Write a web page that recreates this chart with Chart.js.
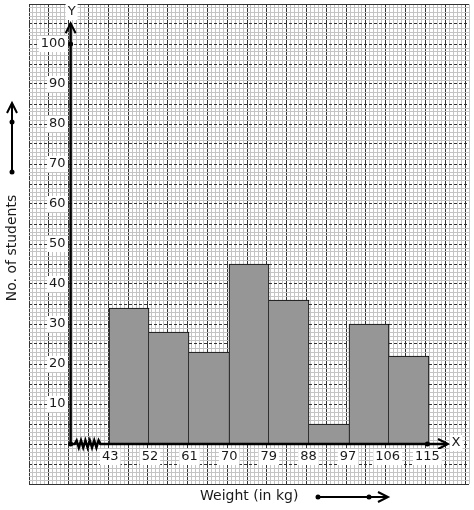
<!DOCTYPE html>
<html>
<head>
<meta charset="utf-8">
<script src="https://cdn.jsdelivr.net/npm/chart.js@4"></script>
<style>
  body { margin: 0; background: #fff; }
</style>
</head>
<body>
<canvas id="chart" width="474" height="510"></canvas>
<script>
// class intervals (kg), 9 kg wide; the outer ones are empty paper
const classes = ['25-34', '34-43', '43-52', '52-61', '61-70', '70-79',
                 '79-88', '88-97', '97-106', '106-115', '115-124'];
const students = [null, null, 34, 28, 23, 45, 36, 5, 30, 22, null];
const xTicks = [43, 52, 61, 70, 79, 88, 97, 106, 115];
const yTicks = [10, 20, 30, 40, 50, 60, 70, 80, 90, 100];

const FONT = '13px "DejaVu Sans", sans-serif';
const TITLE_FONT = '14px "DejaVu Sans", sans-serif';
const INK = '#1a1a1a';

function neighbour(i) {
    return students[i] == null ? 0 : students[i];
}

// only the taller bar of two neighbours draws the shared edge
function barBorder(ctx) {
    const i = ctx.dataIndex;
    const cur = neighbour(i);
    return {
        top: 1,
        bottom: 0,
        left: neighbour(i - 1) < cur ? 1 : 0,
        right: neighbour(i + 1) <= cur ? 1 : 0
    };
}

function labelBox(c, text, x, y, align) {
    c.font = FONT;
    const w = c.measureText(text).width;
    const left = align === 'right' ? x - w : align === 'center' ? x - w / 2 : x;
    c.fillStyle = '#fff';
    c.fillRect(left - 2, y - 8, w + 4, 16);
    c.fillStyle = INK;
    c.textAlign = align;
    c.textBaseline = 'middle';
    c.fillText(text, x, y);
}

function dot(c, x, y) {
    c.beginPath();
    c.arc(x, y, 2.5, 0, Math.PI * 2);
    c.fill();
}

function openArrow(c, x, y, dx, dy) {
    // tip at x,y pointing along dx,dy
    const px = -dy, py = dx;
    c.beginPath();
    c.moveTo(x - dx * 10 + px * 5, y - dy * 10 + py * 5);
    c.lineTo(x, y);
    c.lineTo(x - dx * 10 - px * 5, y - dy * 10 - py * 5);
    c.stroke();
}

const axesPlugin = {
    id: 'axes',
    afterDatasetsDraw(chart) {
        const c = chart.ctx;
        const xs = chart.scales.xg;
        const ys = chart.scales.y;
        const ox = xs.getPixelForValue(34);
        const oy = ys.getPixelForValue(0);
        c.save();
        c.strokeStyle = '#000';
        c.fillStyle = '#000';
        c.lineWidth = 2.5;

        // y axis
        const yTop = ys.getPixelForValue(105.2);
        c.beginPath();
        c.moveTo(ox, oy);
        c.lineTo(ox, yTop + 1);
        c.stroke();
        c.lineWidth = 2;
        openArrow(c, ox, yTop, 0, -1);

        // x axis with break mark
        c.lineWidth = 2.5;
        const zStart = ox + 4;
        const zEnd = xs.getPixelForValue(40.8);
        c.beginPath();
        c.moveTo(ox, oy);
        c.lineTo(zStart, oy);
        let up = true;
        for (let x = zStart + 2; x < zEnd; x += 2.2) {
            c.lineTo(x, oy + (up ? -3.5 : 3.5));
            up = !up;
        }
        c.lineTo(zEnd, oy);
        c.lineTo(xs.getPixelForValue(124) - 20, oy);
        c.stroke();
        c.lineWidth = 2;
        openArrow(c, xs.getPixelForValue(124) - 19, oy, 1, 0);

        dot(c, ox, oy);
        dot(c, ox, ys.getPixelForValue(100));
        dot(c, xs.getPixelForValue(115), oy);

        yTicks.forEach(v => labelBox(c, String(v), ox - 5, ys.getPixelForValue(v), 'right'));
        xTicks.forEach(v => labelBox(c, String(v), xs.getPixelForValue(v), oy + 13, 'center'));
        labelBox(c, 'Y', ox + 1, ys.getPixelForValue(108), 'center');
        labelBox(c, 'X', xs.getPixelForValue(124) - 11, oy - 1, 'center');
        c.restore();
    },
    afterDraw(chart) {
        const c = chart.ctx;
        c.save();
        c.font = TITLE_FONT;
        c.fillStyle = INK;
        c.strokeStyle = '#000';

        // x title and arrow
        c.textAlign = 'left';
        c.textBaseline = 'middle';
        c.fillText('Weight (in kg)', 200, 496);
        c.lineWidth = 2;
        c.beginPath();
        c.moveTo(318, 497);
        c.lineTo(388, 497);
        c.stroke();
        openArrow(c, 388, 497, 1, 0);
        c.fillStyle = '#000';
        dot(c, 318, 497);
        dot(c, 369, 497);

        // y title and arrow
        c.beginPath();
        c.moveTo(12, 172);
        c.lineTo(12, 103);
        c.stroke();
        openArrow(c, 12, 103, 0, -1);
        dot(c, 12, 172);
        dot(c, 12, 122);
        c.translate(12, 248);
        c.rotate(-Math.PI / 2);
        c.fillStyle = INK;
        c.textAlign = 'center';
        c.fillText('No. of students', 0, 0);
        c.restore();
    }
};

const ctx = document.getElementById('chart').getContext('2d');
const histogram = new Chart(ctx, {
    type: 'bar',
    data: {
        labels: classes,
        datasets: [{
            data: students,
            backgroundColor: '#969696',
            borderColor: '#000',
            borderWidth: barBorder,
            borderSkipped: false,
            barPercentage: 1,
            categoryPercentage: 1
        }]
    },
    options: {
        responsive: false,
        animation: false,
        layout: { padding: { left: 29, right: 5, top: 4, bottom: 26 } },
        plugins: {
            legend: { display: false },
            tooltip: { enabled: false }
        },
        scales: {
            x: {
                type: 'category',
                display: false,
                offset: true
            },
            xg: {
                type: 'linear',
                position: 'bottom',
                min: 25,
                max: 124,
                ticks: { display: false, stepSize: 0.9, autoSkip: false },
                border: { display: false },
                grid: {
                    drawTicks: false,
                    color: c => c.index % 5 === 0 ? '#333' : '#c4c4c4'
                }
            },
            y: {
                type: 'linear',
                min: -10,
                max: 110,
                ticks: { display: false, stepSize: 1, autoSkip: false },
                border: {
                    display: false,
                    dash: c => (c.tick && c.tick.value % 5 === 0 && c.tick.value !== -10 && c.tick.value !== 110) ? [3, 2] : []
                },
                grid: {
                    drawTicks: false,
                    color: c => c.tick.value % 5 === 0 ? '#333' : '#c4c4c4'
                }
            }
        }
    },
    plugins: [axesPlugin]
});
</script>
</body>
</html>
